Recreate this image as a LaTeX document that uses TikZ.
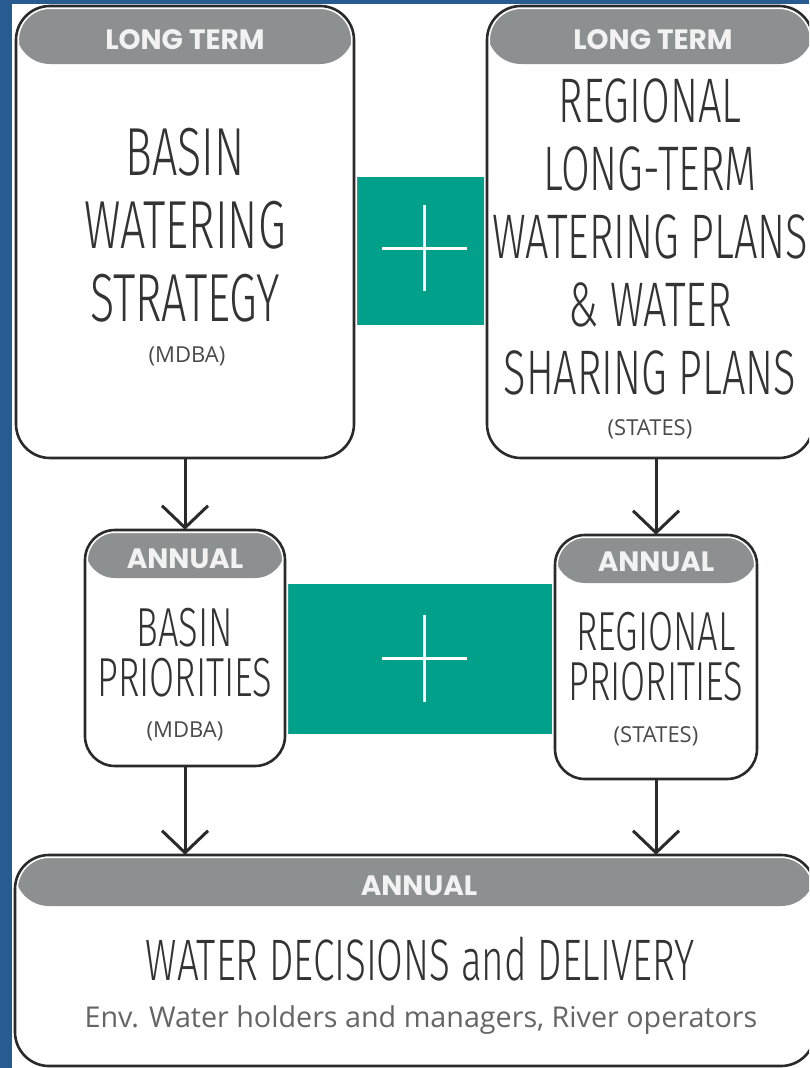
\documentclass[tikz,border=0pt]{standalone}
\usepackage{fontspec}
\setmainfont{Open Sans}
\newfontfamily\cond{Fira Sans Light}[FakeStretch=0.66]
\newfontfamily\hdrfont{Poppins}
\usetikzlibrary{arrows.meta}
\definecolor{frameblue}{HTML}{285C91}
\definecolor{tealc}{HTML}{00A08B}
\definecolor{hdrgray}{HTML}{8D9091}
\definecolor{boxline}{HTML}{2A2A2A}
\definecolor{txtgray}{HTML}{333333}
\definecolor{subgray}{HTML}{4A4A4A}
\definecolor{hdrtext}{HTML}{F2F2F2}
\tikzset{
  hdr h/.store in=\hdrh, hdr h=58,
  panel/.style={rectangle, inner sep=0pt, fill=white, rounded corners=#1,
    path picture={\fill[hdrgray] (path picture bounding box.north west) rectangle ([yshift=-\hdrh pt]path picture bounding box.north east);},
    postaction={draw=white, line width=6pt},
    postaction={draw=boxline, line width=2.6pt}},
  tealbox/.style={rectangle, inner sep=0pt, fill=tealc},
  plusline/.style={draw=white, line width=3pt},
  maintxt/.style={text=txtgray, align=center, inner sep=0pt},
  subtxt/.style={text=subgray, inner sep=0pt, font=\fontsize{22}{26}\selectfont},
  hdrtxt/.style={text=hdrtext, inner sep=0pt, font=\hdrfont\bfseries\fontsize{28}{32}\selectfont},
  arr/.style={draw=boxline, line width=3pt, -{Straight Barb[length=22pt,width=46pt]}}
}
\begin{document}
\begin{tikzpicture}[x=1pt,y=-1pt]
\path[use as bounding box] (0,0) rectangle (809,1068);
\clip (0,0) rectangle (809,1068);
\fill[white] (0,0) rectangle (809,1068);

% teal connectors
\node[tealbox, minimum width=133pt, minimum height=148pt] (t1) at (420.5,251) {};
\draw[plusline] (382,248) -- (467,248);
\draw[plusline] (424,205) -- (424,291);
\node[tealbox, minimum width=270pt, minimum height=150pt] (t2) at (420,659) {};
\draw[plusline] (382,658) -- (467,658);
\draw[plusline] (424,615) -- (424,702);

% panels
\node[panel=34pt, hdr h=58, minimum width=338pt, minimum height=452pt] (b1) at (185,232) {};
\node[panel=34pt, hdr h=58, minimum width=326pt, minimum height=452pt] (b2) at (650,232) {};
\node[panel=30pt, hdr h=48, minimum width=200pt, minimum height=236pt] (b3) at (185,648) {};
\node[panel=30pt, hdr h=48, minimum width=202pt, minimum height=244pt] (b4) at (656,657) {};
\node[panel=34pt, hdr h=51, minimum width=800pt, minimum height=211pt] (b5) at (415,960.5) {};

% headers
\node[hdrtxt] (b1h) at (185,40) {LONG TERM};
\node[hdrtxt] (b2h) at (653,40) {LONG TERM};
\node[hdrtxt] (b3h) at (185,559) {ANNUAL};
\node[hdrtxt] (b4h) at (656,562) {ANNUAL};
\node[hdrtxt] (b5h) at (419,886) {ANNUAL};

% main texts
\node[maintxt, font=\cond\fontsize{68}{73}\selectfont] (b1t) at (185,225) {BASIN\\WATERING\\STRATEGY};
\node[subtxt] (b1s) at (187,356) {(MDBA)};
\node[maintxt, font=\cond\fontsize{63}{68}\selectfont] (b2t) at (650,237) {REGIONAL\\LONG-TERM\\WATERING PLANS\\\&~WATER\\SHARING PLANS};
\node[subtxt] (b2s) at (650,429) {(STATES)};
\node[maintxt, font=\cond\fontsize{55}{50}\selectfont] (b3t) at (185,653) {BASIN\\PRIORITIES};
\node[subtxt] (b3s) at (185,731) {(MDBA)};
\node[maintxt, font=\cond\fontsize{55}{50}\selectfont] (b4t) at (656,657) {REGIONAL\\PRIORITIES};
\node[subtxt] (b4s) at (656,736) {(STATES)};
\node[maintxt, font=\cond\fontsize{58.5}{64}\selectfont] (b5t) at (420,959) {WATER DECISIONS and DELIVERY};
\node[subtxt, font=\fontsize{28.7}{32}\selectfont, text=subgray!85] (b5s) at (421,1020) {Env. Water holders and managers, River operators};

% arrows
\draw[arr] (b1.south) -- (b3.north);
\draw[arr] (b4.north |- b2.south) -- (b4.north);
\draw[arr] (b3.south) -- (b3.south |- b5.north);
\draw[arr] (b4.south) -- (b4.south |- b5.north);

% blue frame
\fill[frameblue] (0,0) rectangle (12,1068);
\fill[frameblue] (0,0) rectangle (809,4);
\end{tikzpicture}
\end{document}
